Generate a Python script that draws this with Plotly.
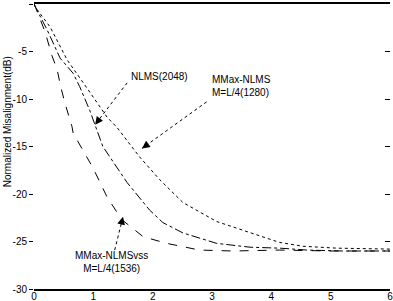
import plotly.graph_objects as go

# MMax-NLMSvss M=L/4(1536) (dashed, fastest)
x_vss = [0, 0.03, 0.19, 0.30, 0.39, 0.45, 0.52, 0.64, 0.66, 0.82, 0.99, 1.23, 1.48, 1.84, 1.95, 2.24, 2.79, 3.35, 4.14, 5.0, 6.0]
y_vss = [0, -0.4, -3.0, -5.4, -6.9, -8.7, -10.4, -12.9, -13.6, -15.4, -17.2, -20.3, -22.7, -24.5, -24.7, -25.2, -25.9, -26.0, -25.9, -26.0, -26.0]

# NLMS(2048) (middle)
x_nlms = [0, 0.03, 0.22, 0.44, 0.66, 0.77, 0.94, 1.03, 1.16, 1.57, 1.95, 2.17, 2.51, 3.08, 3.64, 4.14, 4.6, 5.2, 6.0]
y_nlms = [0, -0.4, -2.7, -5.7, -7.3, -8.7, -11.2, -12.7, -15.0, -18.8, -21.7, -23.0, -24.1, -25.2, -25.6, -25.7, -25.9, -26.0, -26.0]

# MMax-NLMS M=L/4(1280) (slowest)
x_mmax = [0, 0.03, 0.27, 0.56, 0.91, 1.23, 1.40, 1.78, 2.12, 2.51, 3.08, 3.64, 4.14, 4.53, 5.10, 6.0]
y_mmax = [0, -0.4, -2.4, -5.9, -9.0, -11.9, -13.0, -16.1, -18.5, -20.9, -22.9, -24.1, -25.1, -25.5, -25.7, -25.8]

y_ticks = [0, -5, -10, -15, -20, -25, -30]
y_tick_labels = ["0", "-5", "-10", "-15", "-20", "-25", "-30"]
x_ticks = [0, 1, 2, 3, 4, 5, 6]

fig = go.Figure()
line_w = 1
fig.add_trace(go.Scatter(x=x_vss, y=y_vss, mode="lines", line=dict(color="black", width=line_w, dash="dash")))
fig.add_trace(go.Scatter(x=x_nlms, y=y_nlms, mode="lines", line=dict(color="black", width=line_w, dash="dashdot")))
fig.add_trace(go.Scatter(x=x_mmax, y=y_mmax, mode="lines", line=dict(color="black", width=line_w, dash="dot")))
# invisible trace to activate right-hand tick axis
fig.add_trace(go.Scatter(x=[None], y=[None], yaxis="y2", mode="lines", hoverinfo="skip"))

# arrows: (tail_x, tail_y, head_x, head_y)
arrows = [
    (1.57, -8.3, 1.03, -12.7),
    (2.91, -10.3, 1.82, -15.2),
    (1.36, -25.9, 1.50, -22.4),
]
for tx, ty, hx, hy in arrows:
    fig.add_shape(type="line", x0=tx, y0=ty, x1=hx, y1=hy, xref="x", yref="y",
                  line=dict(color="black", width=1, dash="dot"))
    dxp = (hx - tx) * 59.3
    dyp = -(hy - ty) * 9.5
    n = (dxp ** 2 + dyp ** 2) ** 0.5
    fig.add_annotation(x=hx, y=hy, ax=-dxp / n * 9, ay=-dyp / n * 9, axref="pixel", ayref="pixel",
                       text="", showarrow=True, arrowhead=2, arrowsize=1.3, arrowwidth=1.2,
                       arrowcolor="black")

font = dict(family="Liberation Sans, Arial, sans-serif", size=10, color="black")
fig.add_annotation(x=2.12, y=-7.6, text="NLMS(2048)", showarrow=False, font=font)
fig.add_annotation(x=2.96, y=-8.6, text="MMax-NLMS<br>M=L/4(1280)", showarrow=False, font=font,
                   xanchor="left", align="left")
fig.add_annotation(x=1.31, y=-27.2, text="MMax-NLMSvss<br>M=L/4(1536)", showarrow=False, font=font,
                   align="center")
# y-axis title
fig.add_annotation(xref="paper", yref="y", x=-34 / 356, y=-12.4, xanchor="left",
                   text="Normalized Misalignment(dB)", textangle=-90, showarrow=False,
                   font=dict(family="Liberation Sans, Arial, sans-serif", size=10, color="black"))

fig.update_layout(
    width=393, height=301,
    margin=dict(l=34, r=3, t=4, b=12),
    paper_bgcolor="white", plot_bgcolor="white",
    showlegend=False,
    font=font,
    yaxis2=dict(overlaying="y", side="right", range=[-30, 0], tickvals=y_ticks, showticklabels=False,
                ticks="inside", ticklen=5, tickcolor="black", showgrid=False, zeroline=False,
                showline=False, automargin=False),
)
fig.update_xaxes(range=[0, 6], tickvals=x_ticks, showgrid=False, zeroline=False,
                 showline=True, linecolor="black", linewidth=1.5, mirror=True,
                 ticks="", tickfont=dict(size=10), ticklabelstandoff=-3, automargin=False,
                 ticklabeloverflow="allow")
fig.layout.yaxis.update(range=[-30, 0], tickvals=y_ticks, ticktext=y_tick_labels, showgrid=False,
                        zeroline=False, showline=False, ticks="outside", ticklen=4, tickcolor="black",
                        tickfont=dict(size=10), automargin=False)

fig.write_html("out.html", config={"displayModeBar": False},
               post_script="document.body.style.margin='0';document.body.style.padding='0';")
